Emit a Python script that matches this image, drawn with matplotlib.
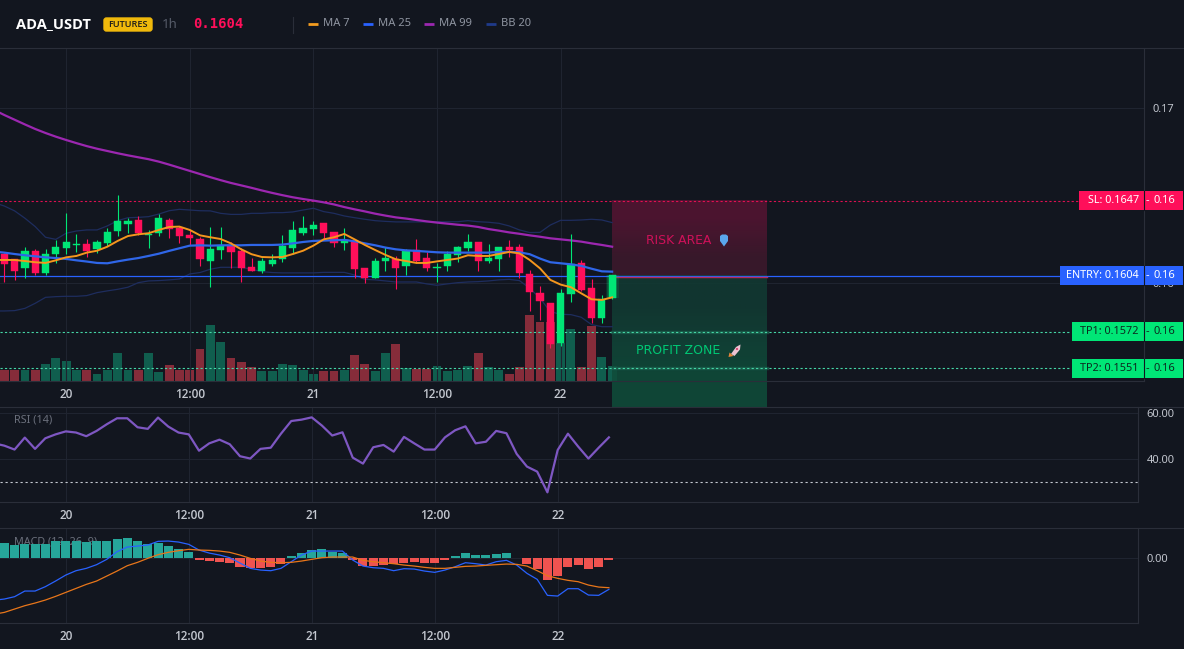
import numpy as np
import matplotlib
matplotlib.use("Agg")
import matplotlib.pyplot as plt
from matplotlib.patches import Ellipse, FancyBboxPatch, Polygon, Rectangle

plt.rcParams['font.family'] = ['Noto Sans', 'DejaVu Sans']

W, H = 1184, 649
BG = '#12161f'
GRID = '#1f2430'
BORDER = '#2a2e39'
UP = '#00e676'
DOWN = '#ff0f5a'
BOLD_FONT = 'Open Sans'

# Hourly candles, prices kept in 1e-5 USDT
opens = [16164, 16134, 16084, 16183, 16058, 16164, 16199, 16218, 16222, 16191, 16225, 16298, 16336, 16359, 16275,
         16287, 16359, 16315, 16273, 16250, 16124, 16189, 16218, 16180, 16088, 16065, 16107, 16134, 16199, 16283,
         16308, 16344, 16290, 16229, 16231, 16084, 16027, 16126, 16134, 16096, 16187, 16142, 16082, 16096, 16161,
         16197, 16233, 16124, 16136, 16204, 16204, 16050, 15941, 15884, 15655, 15935, 16113, 15970, 15798, 15913]
closes = [16107, 16069, 16182, 16058, 16164, 16204, 16233, 16222, 16183, 16233, 16290, 16351, 16353, 16283, 16279,
          16370, 16308, 16269, 16256, 16138, 16193, 16210, 16176, 16084, 16069, 16122, 16130, 16210, 16302, 16313,
          16330, 16285, 16229, 16245, 16079, 16027, 16124, 16143, 16084, 16182, 16124, 16084, 16088, 16164, 16206,
          16233, 16124, 16142, 16204, 16187, 16056, 15947, 15895, 15649, 15941, 16107, 15956, 15798, 15907, 16044]
highs = [16172, 16134, 16206, 16191, 16191, 16245, 16401, 16279, 16250, 16243, 16311, 16502, 16372, 16382, 16302,
         16393, 16370, 16325, 16302, 16264, 16319, 16319, 16235, 16197, 16142, 16140, 16164, 16273, 16351, 16382,
         16351, 16344, 16290, 16313, 16245, 16084, 16140, 16206, 16153, 16191, 16248, 16178, 16111, 16180, 16210,
         16279, 16233, 16220, 16206, 16245, 16222, 16073, 15981, 15884, 15964, 16279, 16128, 16021, 15930, 16044]
lows = [16006, 16016, 16029, 16044, 16042, 16111, 16164, 16178, 16149, 16168, 16212, 16267, 16283, 16273, 16199,
        16267, 16258, 16225, 16216, 16098, 15977, 16138, 16086, 16006, 16065, 16058, 16098, 16119, 16164, 16273,
        16273, 16248, 16206, 16187, 16025, 16000, 16027, 16067, 15964, 16044, 16111, 16067, 16004, 16067, 16119,
        16180, 16067, 16111, 16067, 16147, 16025, 15838, 15787, 15626, 15638, 15890, 15953, 15768, 15768, 15905]
volume = [34, 34, 32, 34, 52, 70, 60, 32, 32, 22, 32, 85, 32, 34, 85, 26, 49, 32, 32, 97, 169, 118, 70, 58, 43, 29,
          29, 52, 49, 34, 22, 31, 29, 34, 79, 52, 29, 85, 112, 40, 37, 37, 46, 29, 32, 46, 85, 43, 34, 22, 43, 199,
          178, 178, 115, 157, 43, 166, 73, 46]

# Moving averages and bands, one extra leading bar that runs off the left edge
ma7 = [16130, 16130, 16130, 16124, 16117, 16113, 16128, 16145, 16153, 16172, 16183, 16206, 16239, 16267, 16277, 16283,
       16302, 16319, 16321, 16302, 16271, 16260, 16250, 16225, 16191, 16163, 16147, 16145, 16147, 16164, 16183,
       16212, 16248, 16260, 16279, 16248, 16216, 16187, 16159, 16134, 16124, 16113, 16113, 16122, 16130, 16138,
       16157, 16153, 16153, 16164, 16176, 16168, 16130, 16082, 16016, 15989, 15974, 15939, 15905, 15901, 15916]
ma25 = [16178, 16172, 16164, 16157, 16151, 16145, 16141, 16136, 16128, 16121, 16113, 16111, 16122, 16132, 16141, 16153,
        16166, 16182, 16197, 16212, 16214, 16212, 16214, 16214, 16214, 16216, 16216, 16216, 16218, 16225, 16233,
        16239, 16241, 16243, 16245, 16237, 16225, 16214, 16201, 16191, 16185, 16182, 16178, 16174, 16172, 16172,
        16172, 16172, 16172, 16176, 16176, 16174, 16163, 16138, 16117, 16111, 16105, 16096, 16080, 16065, 16063]
ma99 = [16989, 16960, 16933, 16906, 16880, 16857, 16836, 16817, 16799, 16782, 16767, 16754, 16741, 16729, 16718, 16707,
        16693, 16676, 16658, 16640, 16622, 16604, 16587, 16571, 16557, 16543, 16528, 16514, 16501, 16489, 16479,
        16470, 16460, 16448, 16433, 16420, 16408, 16395, 16384, 16374, 16367, 16359, 16351, 16344, 16338, 16332,
        16327, 16319, 16307, 16298, 16288, 16280, 16271, 16263, 16254, 16248, 16242, 16235, 16225, 16216, 16206]
bb_upper = [16458, 16439, 16411, 16369, 16321, 16260, 16248, 16283, 16296, 16302, 16302, 16325, 16355, 16372, 16374, 16378,
            16393, 16412, 16420, 16416, 16412, 16411, 16397, 16391, 16391, 16397, 16397, 16401, 16401, 16405, 16416,
            16426, 16407, 16397, 16382, 16372, 16363, 16355, 16351, 16348, 16348, 16348, 16348, 16349, 16349, 16349,
            16355, 16349, 16346, 16340, 16325, 16302, 16287, 16288, 16330, 16357, 16357, 16359, 16363, 16359, 16344]
bb_lower = [15838, 15838, 15840, 15853, 15882, 15916, 15920, 15922, 15922, 15926, 15943, 15953, 15962, 15974, 16000, 16010,
            16012, 16016, 16021, 16050, 16058, 16077, 16088, 16088, 16088, 16077, 16063, 16058, 16056, 16056, 16056,
            16056, 16059, 16059, 16059, 16044, 16019, 16016, 16010, 16004, 16004, 16004, 15993, 15985, 15993, 16000,
            16004, 16006, 16010, 16016, 16019, 16012, 15968, 15911, 15834, 15819, 15817, 15802, 15760, 15748, 15748]

# Oscillators (MACD values in 1e-5), same leading bar
rsi = [46.8, 45.8, 44.1, 49.3, 44.4, 49.0, 50.7, 52.0, 51.5, 49.9, 52.2, 55.1, 57.7, 57.7, 53.8, 53.1, 58.0, 54.1, 51.5,
       50.7, 43.6, 46.8, 48.4, 46.4, 41.2, 40.2, 44.4, 44.9, 51.0, 56.5, 57.1, 58.1, 54.5, 50.2, 51.6, 40.6, 38.0,
       45.1, 46.1, 43.2, 49.6, 46.8, 44.1, 44.1, 49.4, 52.5, 54.2, 46.8, 47.5, 52.2, 51.2, 42.2, 36.7, 34.5, 25.5,
       43.9, 51.0, 45.4, 40.2, 44.9, 49.4]
macd_hist = [29.3, 25.3, 28.0, 26.7, 28.0, 32.7, 33.3, 32.7, 31.3, 33.3, 33.3, 37.3, 39.3, 34.0, 27.3, 29.3, 23.3,
             17.3, 12.0, -4.0, -6.7, -8.7, -10.7, -18.0, -21.3, -21.3, -18.0, -12.0, 4.0, 9.3, 16.0, 17.3, 12.0, 9.3,
             -4.7, -16.7, -17.3, -14.7, -13.3, -10.7, -8.7, -10.7, -10.7, -4.7, 4.0, 9.3, 5.3, 5.3, 7.3, 10.0, -1.3,
             -13.3, -22.7, -44.7, -36.7, -18.7, -14.7, -22.7, -18.7, -4.7]
macd_line = [-85.0, -82.7, -78.0, -66.7, -66.7, -58.0, -46.7, -34.7, -26.0, -21.3, -14.0, -3.3, 12.0, 21.3, 23.3, 25.3, 32.7,
             33.3, 31.3, 26.7, 15.3, 9.3, 5.3, 0.0, -10.7, -21.3, -24.7, -26.0, -21.3, -8.0, 5.3, 13.3, 13.3, 13.3,
             13.3, -4.7, -16.7, -20.0, -21.3, -26.0, -22.0, -22.7, -26.7, -29.3, -24.7, -18.0, -10.0, -12.0, -14.7,
             -8.0, -5.3, -14.7, -31.3, -43.3, -75.3, -76.7, -62.0, -62.0, -74.7, -75.3, -63.3]
macd_signal = [-113.0, -109.4, -102.7, -96.0, -90.7, -84.7, -77.4, -69.4, -61.4, -53.4, -46.7, -36.7, -26.7, -16.0, -9.3, -1.3,
               6.0, 10.7, 14.0, 16.7, 15.3, 14.7, 13.3, 10.7, 5.3, -1.3, -6.7, -9.3, -10.0, -9.3, -6.7, -3.3, 0.0, 1.3,
               1.3, 1.3, -5.3, -8.0, -10.0, -12.0, -14.7, -16.7, -19.3, -21.3, -21.3, -19.3, -17.3, -16.7, -15.3, -14.0,
               -12.7, -13.3, -16.7, -26.0, -36.0, -41.3, -45.3, -48.0, -54.7, -58.7, -60.0]

# Trade levels
sl_price = 0.1647
entry_price = 0.1604
tp1_price = 0.1572
tp2_price = 0.1551

date_ticks = [0, 12, 24, 36, 48]
date_labels = ['20', '12:00', '21', '12:00', '22']

idx = np.arange(-6, 54)
line_idx = np.arange(-7, 54)
opens, closes, highs, lows = [np.array(a) / 1e5 for a in (opens, closes, highs, lows)]
ma7, ma25, ma99 = [np.array(a) / 1e5 for a in (ma7, ma25, ma99)]
bb_upper, bb_lower = np.array(bb_upper) / 1e5, np.array(bb_lower) / 1e5
macd_hist = np.array(macd_hist)


def add_pane(left, top, right, bottom, z):
    ax = fig.add_axes([left / W, 1 - bottom / H, (right - left) / W, (bottom - top) / H], zorder=z)
    ax.set_facecolor('none')
    return ax


def style_pane(ax):
    ax.set_xlim(-6.42, 104.63)
    ax.set_xticks(date_ticks, date_labels)
    ax.yaxis.tick_right()
    ax.tick_params(axis='x', length=0, pad=5, labelsize=8.5, labelcolor='#c4c8d0')
    ax.tick_params(axis='y', length=0, pad=6, labelsize=8, labelcolor='#c0c4cc')
    for lab in ax.get_xticklabels():
        lab.set_fontweight('semibold')
        lab.set_family(BOLD_FONT)
    ax.grid(True, color=GRID, lw=0.8)
    ax.set_axisbelow(True)
    for s in ('top', 'left'):
        ax.spines[s].set_visible(False)
    for s in ('right', 'bottom'):
        ax.spines[s].set_color(BORDER)
        ax.spines[s].set_linewidth(0.8)


def px_to_idx(px):
    return (px - 66) / 10.31


fig = plt.figure(figsize=(W / 100, H / 100), dpi=100, facecolor=BG)

# ---- price pane ----
vol_ax = add_pane(0, 49, 1144, 381, 1)
vol_ax.set_xlim(-6.42, 104.63)
vol_ax.set_ylim(0, 996)
vol_ax.axis('off')
up = closes >= opens
vol_ax.bar(idx, volume, width=0.86, color=np.where(up, '#105e4e', '#862c3a'), zorder=2)

main = add_pane(0, 49, 1144, 381, 2)
main.imshow(np.array([[[0.31, 0.08, 0.19, 0.95]], [[0.23, 0.10, 0.17, 0.95]]]), extent=(52.96, 68, 0.1604, sl_price),
            aspect='auto', zorder=1, interpolation='bilinear')
green_zone = main.imshow(np.array([[[0.07, 0.23, 0.20, 0.88]], [[0.06, 0.30, 0.23, 0.88]]]),
                         extent=(52.96, 68, 0.15289, 0.1604), aspect='auto', zorder=1, interpolation='bilinear')
green_zone.set_clip_on(False)
style_pane(main)
main.set_ylim(0.15437, 0.17338)
main.set_yticks([0.16, 0.17], ['0.16', '0.17'])

main.plot(line_idx, bb_upper, color='#1e2d5e', lw=0.9, zorder=2.5)
main.plot(line_idx, bb_lower, color='#1e2d5e', lw=0.9, zorder=2.5)
main.plot(line_idx, ma99, color='#9c27b0', lw=1.6, zorder=3)

# Level lines run up to their tags on the right
main.plot([-6.42, px_to_idx(1079)], [sl_price] * 2, color=DOWN, lw=0.8, ls=(0, (2, 2)), alpha=0.85, zorder=2.6)
main.plot([-6.42, px_to_idx(1060)], [entry_price] * 2, color='#2962ff', lw=0.9, zorder=2.6)
for tp in (tp1_price, tp2_price):
    main.plot([-6.42, px_to_idx(1072)], [tp] * 2, color='#45d6a6', lw=0.8, ls=(0, (2, 2)), zorder=2.6)
    main.plot([52.96, 68], [tp] * 2, color='#1f6a55', lw=2.4, alpha=0.6, zorder=1.5)
main.plot([52.96, 68], [entry_price - 0.00006] * 2, color='#b52a5c', lw=1.0, zorder=2.7)

main.vlines(idx, lows, highs, colors=np.where(up, UP, DOWN), lw=0.8, zorder=4)
main.bar(idx, closes - opens, bottom=opens, width=0.7, color=np.where(up, UP, DOWN), edgecolor=np.where(up, UP, DOWN),
         lw=0.3, zorder=4.2)
# last candle has a soft glow
for w, a in ((1.25, 0.12), (0.95, 0.2)):
    main.bar(idx[-1], closes[-1] - opens[-1], bottom=opens[-1], width=w, color=UP, alpha=a, zorder=4.1)
main.plot(line_idx, ma25, color='#2f66e8', lw=1.6, zorder=5)
main.plot(line_idx, ma7, color='#f5961d', lw=1.4, zorder=5.1)

# ---- RSI pane ----
rsi_ax = add_pane(0, 407, 1138, 502, 2)
style_pane(rsi_ax)
rsi_ax.set_ylim(21.3, 62.6)
rsi_ax.set_yticks([40, 60], ['40.00', '60.00'])
rsi_ax.axhline(30, color='#c4c8d0', lw=0.8, ls=(0, (2, 2.5)))
rsi_ax.plot(line_idx, rsi, color='#7e57c2', lw=1.6)
rsi_ax.text(-5.07, 57.0, 'RSI (14)', color='#6a6f7b', fontsize=7.8, va='center')

# ---- MACD pane ----
macd_ax = add_pane(0, 528, 1138, 623, 2)
style_pane(macd_ax)
macd_ax.set_ylim(-130.6, 59.4)
macd_ax.set_yticks([0], ['0.00'])
macd_ax.text(-5.07, 31, 'MACD (12, 26, 9)', color='#6a6f7b', fontsize=7.8, va='center', zorder=2)
macd_ax.bar(idx, macd_hist, width=0.88, color=np.where(macd_hist >= 0, '#26a69a', '#ef5350'), zorder=3)
macd_ax.plot(line_idx, macd_line, color='#2962ff', lw=0.9, zorder=4)
macd_ax.plot(line_idx, macd_signal, color='#e8761a', lw=0.9, zorder=4.1)

# ---- header, tags and pane chrome, laid out in figure pixels ----
over = fig.add_axes([0, 0, 1, 1], zorder=10)
over.set_xlim(0, W)
over.set_ylim(H, 0)
over.axis('off')

for y in (48, 407, 528):
    over.plot([0, W], [y, y], color=BORDER, lw=0.8)

over.text(16, 24.5, 'ADA_USDT', color='white', fontsize=10.5, fontweight='bold', family=BOLD_FONT, va='center')
over.add_patch(FancyBboxPatch((104, 18), 48, 13, boxstyle='round,pad=0,rounding_size=2.5', fc='#f0b90b', ec='#f0b90b', lw=1))
over.text(128, 24.5, 'FUTURES', color='#1a1a1a', fontsize=6.6, ha='center', va='center', family=BOLD_FONT, fontweight='semibold')
over.text(162, 24.5, '1h', color='#555b68', fontsize=9.5, va='center')
over.text(193, 24.5, '0.1604', color=DOWN, fontsize=10, va='center', fontweight='bold', family='DejaVu Sans Mono')
over.plot([293, 293], [17, 33], color=BORDER, lw=0.8)

legend_items = [(308, 'MA 7', '#f39c1f'), (363, 'MA 25', '#2962ff'), (424, 'MA 99', '#9c27b0'), (486, 'BB 20', '#1f3a8a')]
for x, name, col in legend_items:
    over.plot([x, x + 10], [24, 24], color=col, lw=2, solid_capstyle='butt')
    over.text(x + 15, 24, name, color='#8f95a1', fontsize=8, va='center')

tags = [('SL: 0.1647', sl_price, 1079, DOWN, 'white'),
        ('ENTRY: 0.1604', entry_price, 1060, '#2962ff', 'white'),
        ('TP1: 0.1572', tp1_price, 1072, UP, '#0c2b20'),
        ('TP2: 0.1551', tp2_price, 1072, UP, '#0c2b20')]
for label, price, left, col, txt in tags:
    y = H - main.transData.transform((0, price))[1]
    over.add_patch(Rectangle((left, y - 9.5), W - 1 - left, 19, fc=col, ec='none'))
    over.plot([1144, 1144], [y - 9.5, y + 9.5], color=BG, lw=0.8)
    over.text(1139, y, label, color=txt, fontsize=7.8, ha='right', va='center')
    over.text(1146, y, '-', color=txt, fontsize=8, va='center')
    over.text(1153, y, '0.16', color=txt, fontsize=8, va='center')

over.text(646, 240, 'RISK AREA', color='#cf1159', fontsize=8.9, family='DejaVu Sans', va='center')
over.text(636, 351, 'PROFIT ZONE', color='#00c975', fontsize=9.0, family='DejaVu Sans', va='center')

# small shield and rocket icons next to the zone labels
over.add_patch(Polygon([(720, 236), (722, 234.5), (726, 234.5), (728, 236), (728, 241), (724, 246.5), (720, 241)],
                       closed=True, fc='#5aa6ec', ec='none'))
over.add_patch(Polygon([(731, 354), (736, 347), (740.5, 344.5), (740, 349.5), (734.5, 356)], closed=True, fc='#ecc3d2', ec='none'))
over.add_patch(Polygon([(728.5, 357), (729.5, 352.5), (733.5, 356)], closed=True, fc='#e8873a', ec='none'))
over.add_patch(Ellipse((737, 349), 2.2, 2.2, fc='#d9436f', ec='none'))

fig.savefig('out.png', dpi=100, facecolor=BG)
